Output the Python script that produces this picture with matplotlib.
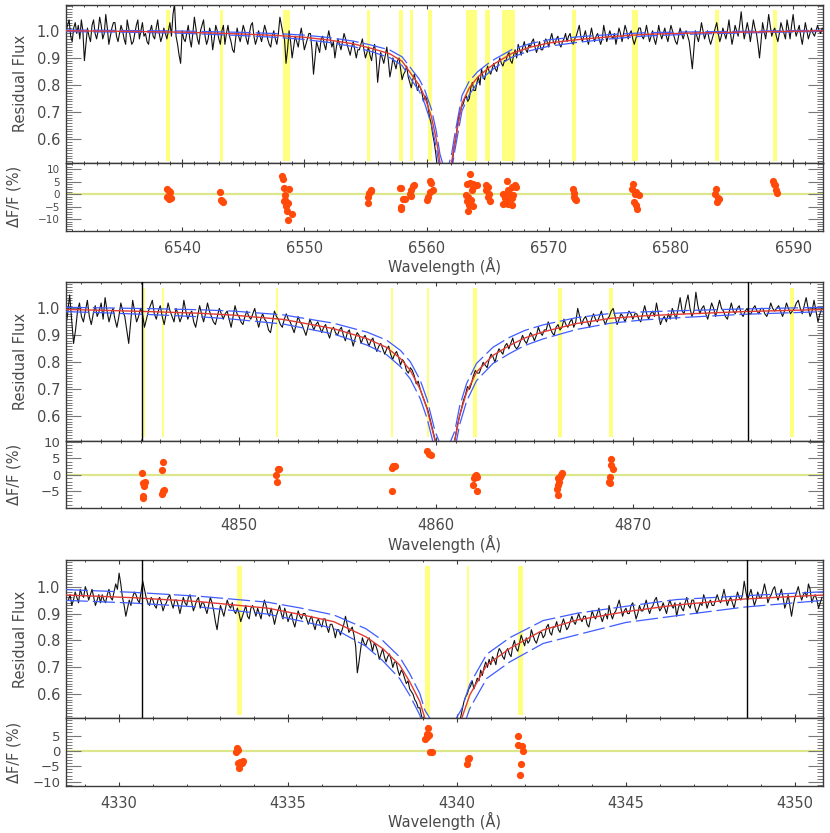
import numpy as np
import matplotlib
matplotlib.use('Agg')
import matplotlib.pyplot as plt
from matplotlib.ticker import MultipleLocator, FixedLocator

plt.rcParams['font.family'] = ['DejaVu Sans']
plt.rcParams['lines.scale_dashes'] = False

# ---------------- Panel 1 (H-alpha) ----------------
flux1_start, flux1_step = 6530.5, 0.125
flux1 = [
    1.00, 1.02, 1.04, 0.98, 0.96, 1.01, 1.03, 0.99,  1.02, 0.97, 1.04, 1.00, 0.89, 0.95, 1.01, 0.98,
    0.96, 1.02, 1.04, 0.99, 0.97, 1.00, 1.05, 1.02,  0.97, 0.99, 1.06, 1.01, 0.95, 0.98, 1.01, 1.03,
    1.03, 0.98, 0.96, 0.99, 1.02, 1.00, 0.97, 0.95,  1.04, 1.01, 0.98, 0.95, 0.96, 0.99, 1.02, 1.04,
    0.97, 1.00, 1.03, 0.98, 0.99, 0.96, 0.95, 1.00,  1.02, 0.98, 0.97, 1.01, 1.04, 0.99, 0.96, 0.98,
    1.01, 0.99, 0.97, 1.00, 1.03, 0.98, 1.06, 1.10,  0.98, 0.95, 0.91, 0.88, 1.00, 0.97, 0.96, 0.99,
    1.02, 0.97, 0.94, 0.99, 1.05, 1.01, 0.97, 0.95,  1.00, 1.02, 1.04, 0.98, 0.95, 0.97, 1.01, 0.99,
    0.93, 0.97, 1.02, 1.00, 0.97, 0.95, 1.00, 1.02,  0.95, 0.99, 1.02, 0.98, 0.96, 0.93, 0.92, 0.97,
    1.01, 0.98, 0.96, 0.99, 1.02, 1.00, 0.97, 0.95,  0.99, 1.02, 1.03, 0.98, 0.95, 0.97, 1.00, 0.98,
    0.96, 0.99, 1.02, 1.00, 0.97, 0.95, 0.94, 0.98,  1.00, 0.97, 0.95, 0.99, 1.05, 1.02, 0.99, 0.97,
    0.88, 0.93, 1.00, 0.96, 0.90, 0.94, 0.98, 0.96,  0.94, 0.98, 1.01, 0.97, 0.93, 0.95, 0.97, 0.99,
    0.99, 0.93, 0.84, 0.90, 0.96, 0.94, 0.92, 0.97,  0.98, 0.95, 0.93, 0.97, 1.00, 0.97, 0.94, 0.96,
    0.90, 0.94, 0.97, 0.95, 0.93, 0.96, 0.99, 0.97,  0.95, 0.93, 0.91, 0.94, 0.96, 0.93, 0.90, 0.93,
    0.93, 0.95, 0.97, 0.93, 0.90, 0.92, 0.94, 0.91,  0.89, 0.93, 0.95, 0.90, 0.81, 0.87, 0.92, 0.90,
    0.88, 0.91, 0.94, 0.89, 0.83, 0.86, 0.90, 0.88,  0.86, 0.89, 0.90, 0.86, 0.82, 0.84, 0.85, 0.87,
    0.83, 0.81, 0.79, 0.82, 0.84, 0.81, 0.78, 0.80,  0.79, 0.77, 0.74, 0.76, 0.75, 0.72, 0.68, 0.66,
    0.62, 0.59, 0.55, 0.50, 0.45, 0.42, 0.40, 0.38,  0.38, 0.37, 0.40, 0.44, 0.48, 0.52, 0.57, 0.60,
    0.64, 0.68, 0.70, 0.72, 0.73, 0.75, 0.76, 0.74,  0.75, 0.79, 0.81, 0.78, 0.78, 0.81, 0.83, 0.80,
    0.86, 0.83, 0.82, 0.85, 0.87, 0.85, 0.84, 0.86,  0.88, 0.86, 0.85, 0.88, 0.90, 0.88, 0.87, 0.89,
    0.89, 0.91, 0.92, 0.89, 0.88, 0.91, 0.93, 0.90,  0.95, 0.93, 0.91, 0.94, 0.96, 0.93, 0.92, 0.95,
    0.94, 0.96, 0.97, 0.94, 0.92, 0.94, 0.96, 0.93,  0.93, 0.95, 0.97, 0.96, 0.94, 0.97, 0.99, 0.96,
    0.95, 0.97, 0.98, 0.95, 0.94, 0.96, 0.97, 0.99,  0.96, 0.98, 0.99, 0.96, 0.95, 0.97, 0.98, 1.00,
    1.02, 0.98, 0.96, 0.98, 1.00, 0.97, 0.95, 0.98,  1.01, 0.98, 0.96, 0.98, 0.99, 0.97, 0.95, 0.97,
    1.02, 0.99, 0.96, 0.98, 1.00, 0.98, 0.97, 0.99,  0.95, 0.98, 1.01, 0.99, 0.96, 0.99, 1.02, 1.00,
    0.97, 0.99, 1.00, 0.97, 0.95, 0.97, 0.99, 1.01,  1.01, 0.98, 0.97, 0.99, 1.02, 0.99, 0.96, 0.98,
    1.00, 0.97, 0.95, 0.98, 1.02, 0.99, 0.97, 0.99,  1.01, 0.98, 0.96, 0.99, 1.02, 1.00, 0.98, 0.96,
    0.95, 0.98, 1.01, 0.99, 0.97, 0.99, 1.00, 0.98,  0.96, 0.91, 0.86, 0.93, 1.00, 0.98, 0.96, 0.99,
    1.03, 1.00, 0.97, 0.99, 1.00, 0.97, 0.95, 0.97,  0.99, 1.01, 1.03, 0.99, 0.96, 0.98, 1.01, 0.99,
    0.97, 1.00, 1.04, 0.99, 0.95, 0.98, 1.02, 1.00,  0.98, 1.02, 1.07, 1.01, 0.97, 1.00, 1.03, 1.00,
    0.96, 1.00, 1.04, 1.01, 0.99, 0.95, 0.90, 0.96,  1.03, 1.00, 0.97, 1.01, 1.06, 1.02, 0.98, 1.00,
    1.01, 0.98, 0.96, 0.99, 1.03, 1.01, 0.99, 0.97,  1.04, 1.01, 0.97, 1.02, 1.06, 1.01, 0.98, 1.00,
    1.02, 0.98, 0.95, 0.99, 1.03, 1.00, 0.97, 0.99,  1.01, 0.99, 0.98, 1.00, 1.02, 1.00, 0.99, 1.01,
    1.00,
]
model1_wl = [6530.5, 6535, 6540, 6545, 6548, 6550, 6552, 6554, 6555.5, 6557, 6558, 6558.8, 6559.4, 6559.85,
             6560.4, 6560.8, 6561.1, 6561.6, 6562.05, 6562.3, 6562.9, 6563.5, 6564.2, 6565, 6565.6, 6567,
             6568.5, 6570, 6572.5, 6575, 6578, 6582, 6586, 6592.5]
model1 = [1.0, 0.998, 0.995, 0.988, 0.982, 0.976, 0.966, 0.952, 0.935, 0.915, 0.888, 0.837, 0.80, 0.757,
          0.683, 0.60, 0.515, 0.44, 0.515, 0.585, 0.733, 0.79, 0.83, 0.86, 0.88, 0.917,
          0.94, 0.955, 0.968, 0.978, 0.987, 0.992, 0.995, 1.0]
up1 = [0.003, 0.003, 0.004, 0.006, 0.007, 0.008, 0.009, 0.01, 0.012, 0.014, 0.016, 0.02, 0.022, 0.025,
       0.028, 0.03, 0.03, 0.03, 0.03, 0.03, 0.028, 0.025, 0.02, 0.018, 0.016, 0.014,
       0.013, 0.012, 0.01, 0.008, 0.006, 0.004, 0.003, 0.002]
dn1 = up1
band1_lo = [6538.69, 6543.07, 6548.25, 6555.15, 6557.78, 6558.68, 6560.08, 6563.2, 6564.78, 6566.21,
            6571.93, 6576.84, 6583.63, 6588.37]
band1_hi = [6539.02, 6543.37, 6548.84, 6555.39, 6558.08, 6558.90, 6560.47, 6564.1, 6565.17, 6567.2,
            6572.24, 6577.33, 6583.96, 6588.67]
vline1 = []
res1_wl = [6538.76, 6538.90, 6538.76, 6538.90, 6539.09, 6539.04,
           6543.09, 6543.20, 6543.37, 6543.26,
           6548.21, 6548.27, 6548.35, 6548.71, 6548.41, 6548.35, 6548.63, 6548.49, 6548.57, 6548.95, 6548.63, 6548.43,
           6555.42, 6555.28, 6555.20, 6555.20, 6555.47,
           6557.80, 6557.94, 6558.07, 6557.94, 6557.88, 6558.21,
           6558.76, 6558.90, 6558.98, 6558.70, 6558.62,
           6560.27, 6560.40, 6560.54, 6560.13, 6560.07, 6560.27,
           6563.55, 6563.28, 6563.55, 6563.83, 6564.10, 6563.20, 6563.69, 6563.42, 6563.64, 6563.28, 6563.47, 6563.77, 6563.42, 6563.77,
           6564.84, 6565.00, 6565.11, 6565.00, 6565.20, 6564.84,
           6566.57, 6567.25, 6566.98, 6566.70, 6566.29, 6566.84, 6566.43, 6566.98, 6566.29, 6566.70, 6566.98, 6567.11, 6566.57, 6567.31,
           6571.96, 6572.10, 6572.18, 6572.26, 6572.04,
           6576.89, 6576.84, 6577.11, 6577.38, 6576.97, 6577.17, 6577.25, 6577.06,
           6583.68, 6583.63, 6583.82, 6583.96, 6583.74,
           6588.34, 6588.48, 6588.56, 6588.70, 6588.42]
res1_val = [2.0, 1.3, -1.1, -2.0, -1.5, 0.9,
            0.9, -2.4, -3.3, -2.9,
            7.5, 6.0, 2.7, 2.0, -0.4, -2.9, -3.6, -4.8, -6.8, -7.8, -10.4, -2.4,
            1.6, 0.5, -1.1, -3.5, 1.5,
            2.7, 2.5, -2.0, -5.1, -6.0, -2.0,
            1.6, 3.3, 3.6, -0.7, -0.1,
            5.2, 4.6, 1.6, -1.1, -2.4, 0.9,
            8.3, 4.3, 4.6, 4.3, 3.9, -0.4, 1.6, -1.1, -2.4, -2.8, -4.4, -4.7, -6.8, 2.9,
            3.9, 2.9, 0.3, -1.1, -2.8, 1.6,
            5.2, 3.6, 2.9, 1.6, 0.3, 0.3, -1.7, -1.7, -4.0, -4.0, -4.4, -0.4, -3.1, 2.9,
            2.3, 0.5, -2.1, -2.4, -1.1,
            4.0, 2.3, 0.9, -0.4, -3.1, -4.4, -5.8, 0.3,
            2.3, 0.3, -1.5, -2.0, -3.1,
            5.2, 3.6, 1.9, 0.5, 4.3]
xticks1 = [6540, 6550, 6560, 6570, 6580, 6590]
rticks1 = [-10, -5, 0, 5, 10]

# ---------------- Panel 2 (H-beta) ----------------
flux2_start, flux2_step = 4841.2, 0.1
flux2 = [
    0.93, 0.98, 1.05, 0.96, 0.87, 0.92, 0.99, 1.02, 0.97, 0.95,
    0.99, 1.03, 0.97, 0.94, 0.98, 1.01, 0.97, 0.99, 1.02, 0.96,
    1.04, 0.99, 0.95, 0.98, 1.00, 0.96, 0.93, 0.97, 1.02, 0.99,
    0.97, 0.92, 0.87, 0.95, 1.03, 0.99, 0.95, 0.97, 1.00, 0.98,
    0.93, 0.96, 0.99, 1.01, 1.03, 0.98, 0.96, 0.99, 1.01, 0.97,
    0.94, 0.98, 1.02, 0.99, 0.97, 0.95, 1.00, 0.98, 0.95, 0.97,
    1.03, 0.99, 0.96, 0.98, 0.99, 0.95, 0.93, 0.97, 1.01, 0.98,
    0.95, 0.98, 1.02, 0.99, 0.97, 0.95, 0.94, 0.97, 1.00, 0.98,
    0.96, 0.98, 0.99, 0.96, 0.93, 0.97, 1.01, 0.98, 0.97, 0.95,
    0.94, 0.97, 0.99, 0.97, 0.96, 0.98, 1.00, 0.96, 0.93, 0.96,
    0.98, 0.96, 0.95, 0.92, 0.91, 0.95, 0.99, 0.97, 0.96, 0.94,
    0.93, 0.96, 0.98, 0.96, 0.95, 0.93, 0.91, 0.94, 0.97, 0.95,
    0.94, 0.92, 0.90, 0.93, 0.96, 0.94, 0.92, 0.94, 0.95, 0.93,
    0.91, 0.93, 0.94, 0.91, 0.89, 0.92, 0.93, 0.91, 0.90, 0.92,
    0.93, 0.90, 0.88, 0.91, 0.92, 0.89, 0.86, 0.89, 0.91, 0.90,
    0.87, 0.89, 0.90, 0.88, 0.86, 0.88, 0.89, 0.86, 0.84, 0.86,
    0.87, 0.85, 0.83, 0.85, 0.86, 0.83, 0.81, 0.83, 0.84, 0.82,
    0.79, 0.81, 0.80, 0.77, 0.76, 0.78, 0.77, 0.75, 0.72, 0.73,
    0.70, 0.68, 0.66, 0.64, 0.62, 0.59, 0.56, 0.53, 0.50, 0.47,
    0.42, 0.40, 0.38, 0.39, 0.40, 0.42, 0.45, 0.49, 0.53, 0.57,
    0.60, 0.63, 0.66, 0.68, 0.71, 0.70, 0.72, 0.75, 0.77, 0.76,
    0.76, 0.78, 0.80, 0.79, 0.78, 0.81, 0.83, 0.82, 0.80, 0.83,
    0.85, 0.84, 0.83, 0.86, 0.87, 0.85, 0.87, 0.89, 0.86, 0.85,
    0.86, 0.88, 0.90, 0.88, 0.87, 0.89, 0.91, 0.90, 0.88, 0.90,
    0.93, 0.91, 0.90, 0.92, 0.92, 0.95, 0.93, 0.91, 0.90, 0.93,
    0.94, 0.92, 0.93, 0.96, 0.94, 0.93, 0.95, 0.96, 0.93, 0.95,
    1.00, 0.97, 0.94, 0.96, 0.97, 0.95, 0.93, 0.96, 0.98, 0.96,
    0.95, 0.97, 0.99, 0.96, 0.94, 0.96, 0.97, 0.99, 1.00, 0.97,
    0.94, 0.96, 0.98, 0.97, 0.95, 0.97, 0.99, 0.98, 0.96, 0.98,
    0.98, 0.96, 0.95, 0.98, 1.01, 0.98, 0.96, 0.98, 0.99, 0.97,
    1.02, 0.98, 0.94, 0.96, 0.97, 0.95, 0.98, 0.96, 1.00, 0.98,
    0.96, 1.00, 1.04, 0.99, 0.98, 1.02, 1.05, 1.00, 0.97, 0.99,
    1.06, 1.01, 0.98, 1.00, 1.01, 0.98, 0.96, 0.99, 1.02, 1.00,
    0.97, 1.00, 1.03, 1.00, 0.99, 0.97, 0.96, 0.99, 1.02, 0.99,
    0.98, 1.00, 1.01, 0.98, 0.97, 0.99, 1.00, 0.98, 0.98, 1.00,
    1.01, 0.99, 0.98, 1.00, 1.00, 0.98, 0.97, 0.99, 1.02, 1.00,
    0.99, 1.00, 1.01, 0.99, 0.97, 0.99, 1.02, 1.00, 0.98, 0.99,
    1.00, 1.02, 1.03, 1.00, 0.98, 1.01, 1.04, 1.00, 0.97, 0.99,
    1.03, 0.99, 0.95, 0.98, 1.00,
]
model2_wl = [4841.2, 4843, 4845.5, 4848, 4849.7, 4852.25, 4854.8, 4856.5, 4857.5, 4858.2, 4858.7, 4859.2,
             4859.55, 4859.95, 4860.45, 4860.96, 4861.2, 4861.56, 4862.06, 4862.9, 4863.75, 4864.5,
             4865.45, 4867.15, 4868.85, 4870.5, 4872.2, 4875.6, 4879.7]
model2 = [0.996, 0.993, 0.988, 0.982, 0.975, 0.959, 0.925, 0.888, 0.855, 0.814, 0.77, 0.70,
          0.627, 0.51, 0.42, 0.51, 0.602, 0.689, 0.764, 0.826, 0.863, 0.89,
          0.913, 0.944, 0.963, 0.972, 0.978, 0.988, 0.996]
up2 = [0.008, 0.009, 0.011, 0.013, 0.015, 0.017, 0.02, 0.024, 0.027, 0.03, 0.032, 0.034,
       0.035, 0.035, 0.035, 0.035, 0.034, 0.033, 0.032, 0.03, 0.03, 0.028,
       0.026, 0.022, 0.018, 0.015, 0.013, 0.01, 0.008]
dn2 = up2
band2_lo = [4845.06, 4846.09, 4851.88, 4857.73, 4859.53, 4861.89, 4866.19, 4868.79, 4877.98]
band2_hi = [4845.23, 4846.17, 4851.96, 4857.83, 4859.64, 4862.09, 4866.39, 4868.99, 4878.18]
vline2 = [4845.06, 4875.84]
res2_wl = [4845.09, 4845.14, 4845.23, 4845.18, 4845.11, 4845.14,
           4846.12, 4846.11, 4846.19, 4846.07, 4846.16,
           4851.96, 4852.04, 4851.88, 4851.91,
           4857.83, 4857.92, 4857.78, 4857.76,
           4859.56, 4859.66, 4859.73,
           4861.98, 4862.06, 4861.93, 4861.89, 4862.11, 4862.03,
           4866.38, 4866.29, 4866.21, 4866.26, 4866.21, 4866.17, 4866.22, 4866.33,
           4868.91, 4868.88, 4868.97, 4868.83, 4868.80, 4868.86]
res2_val = [0.7, -2.5, -2.2, -3.3, -6.4, -6.9,
            3.8, 1.5, -4.5, -5.8, -4.8,
            1.7, 1.8, 0.0, -2.0,
            2.7, 2.6, 2.2, -4.8,
            7.3, 6.4, 6.1,
            -0.3, -0.5, -0.8, -3.2, -4.8, 0.0,
            0.5, -0.5, -1.0, -2.0, -3.0, -4.2, -6.1, 0.0,
            4.8, 3.0, 1.7, -0.5, -2.0, -2.5]
xticks2 = [4850, 4860, 4870]
rticks2 = [-5, 0, 5, 10]

# ---------------- Panel 3 (H-gamma) ----------------
flux3_start, flux3_step = 4328.5, 0.05
flux3 = [
    0.95, 0.97, 0.93, 0.95, 0.98, 0.96, 0.94, 0.99, 0.97, 0.96, 1.00, 0.98, 0.95, 0.97, 0.99, 0.96, 0.93, 0.95, 0.97, 0.94,
    0.97, 0.95, 0.94, 0.97, 0.99, 0.96, 0.95, 0.98, 1.01, 0.99, 1.05, 1.01, 0.96, 0.93, 0.89, 0.92, 0.95, 0.93, 0.96, 0.98,
    0.97, 0.95, 0.94, 0.98, 1.02, 0.99, 0.96, 0.94, 0.93, 0.96, 0.95, 0.93, 0.92, 0.95, 0.96, 0.94, 0.91, 0.93, 0.94, 0.96,
    0.97, 0.94, 0.92, 0.95, 0.95, 0.93, 0.90, 0.93, 0.96, 0.94, 0.93, 0.96, 0.97, 0.94, 0.91, 0.93, 0.95, 0.96, 0.92, 0.94,
    0.94, 0.92, 0.90, 0.93, 0.96, 0.94, 0.91, 0.87, 0.84, 0.89, 0.93, 0.91, 0.89, 0.92, 0.95, 0.93, 0.92, 0.94, 0.91, 0.90,
    0.92, 0.90, 0.87, 0.89, 0.91, 0.93, 0.89, 0.88, 0.92, 0.93, 0.91, 0.89, 0.92, 0.90, 0.88, 0.92, 0.95, 0.93, 0.90, 0.89,
    0.92, 0.89, 0.86, 0.89, 0.91, 0.93, 0.90, 0.88, 0.92, 0.90, 0.87, 0.89, 0.90, 0.87, 0.85, 0.88, 0.91, 0.89, 0.88, 0.90,
    0.90, 0.88, 0.86, 0.88, 0.89, 0.86, 0.84, 0.87, 0.88, 0.86, 0.85, 0.88, 0.88, 0.85, 0.83, 0.86, 0.86, 0.84, 0.81, 0.84,
    0.84, 0.82, 0.84, 0.86, 0.89, 0.86, 0.83, 0.84, 0.85, 0.82, 0.78, 0.68, 0.72, 0.77, 0.81, 0.79, 0.78, 0.80, 0.81, 0.79,
    0.76, 0.79, 0.78, 0.76, 0.73, 0.75, 0.77, 0.74, 0.72, 0.74, 0.75, 0.73, 0.70, 0.72, 0.72, 0.69, 0.67, 0.69, 0.68, 0.66,
    0.64, 0.65, 0.62, 0.61, 0.60, 0.58, 0.57, 0.55, 0.55, 0.52, 0.50, 0.48, 0.46, 0.44, 0.42, 0.41, 0.40, 0.40, 0.39, 0.38,
    0.38, 0.37, 0.37, 0.38, 0.39, 0.40, 0.41, 0.43, 0.44, 0.46, 0.47, 0.49, 0.51, 0.54, 0.57, 0.59, 0.60, 0.62, 0.63, 0.65,
    0.62, 0.64, 0.66, 0.65, 0.69, 0.67, 0.70, 0.72, 0.70, 0.73, 0.71, 0.74, 0.73, 0.71, 0.75, 0.77, 0.76, 0.74, 0.73, 0.76,
    0.77, 0.75, 0.74, 0.78, 0.80, 0.77, 0.76, 0.79, 0.82, 0.80, 0.78, 0.81, 0.79, 0.80, 0.84, 0.82, 0.80, 0.79, 0.81, 0.83,
    0.83, 0.81, 0.82, 0.85, 0.86, 0.83, 0.82, 0.85, 0.85, 0.87, 0.84, 0.83, 0.86, 0.88, 0.86, 0.84, 0.85, 0.87, 0.89, 0.87,
    0.86, 0.88, 0.90, 0.88, 0.87, 0.89, 0.89, 0.86, 0.85, 0.88, 0.91, 0.89, 0.88, 0.90, 0.92, 0.89, 0.87, 0.89, 0.90, 0.88,
    0.93, 0.90, 0.88, 0.90, 0.91, 0.93, 0.95, 0.92, 0.89, 0.91, 0.92, 0.90, 0.90, 0.93, 0.94, 0.91, 0.88, 0.90, 0.93, 0.91,
    0.91, 0.93, 0.95, 0.92, 0.90, 0.92, 0.93, 0.95, 0.96, 0.93, 0.91, 0.92, 0.94, 0.92, 0.90, 0.93, 0.95, 0.93, 0.92, 0.94,
    0.89, 0.92, 0.94, 0.92, 0.91, 0.94, 0.96, 0.93, 0.92, 0.95, 0.95, 0.92, 0.90, 0.92, 0.94, 0.93, 0.97, 0.95, 0.92, 0.94,
    0.95, 0.93, 0.93, 0.95, 0.97, 0.95, 0.94, 0.96, 0.99, 0.96, 0.93, 0.95, 0.96, 0.94, 0.92, 0.95, 0.98, 0.96, 0.95, 0.97,
    1.02, 0.98, 0.95, 0.97, 0.99, 0.96, 0.93, 0.95, 0.98, 0.96, 0.96, 0.98, 1.01, 0.98, 0.94, 0.96, 0.97, 0.99, 1.00, 0.97,
    0.95, 0.97, 0.99, 0.96, 0.92, 0.94, 0.97, 0.93, 0.89, 0.93, 0.96, 0.98, 1.00, 0.97, 0.95, 0.97, 0.98, 0.96, 1.01, 0.99,
    0.94, 0.96, 0.97, 0.95, 0.92, 0.94, 0.96,
]
model3_wl = [4328.42, 4330.4, 4332.4, 4334.4, 4335.35, 4336.35, 4337.3, 4337.8, 4338.3, 4338.6, 4338.9,
             4339.05, 4339.6, 4340.14, 4340.38, 4340.88, 4341.57, 4342.55, 4343.55, 4345.0, 4346.5,
             4348.5, 4350.84]
model3 = [0.969, 0.959, 0.944, 0.92, 0.897, 0.87, 0.814, 0.77, 0.709, 0.647, 0.573,
          0.511, 0.40, 0.511, 0.598, 0.709, 0.771, 0.839, 0.876, 0.907, 0.932,
          0.954, 0.969]
up3 = [0.02, 0.02, 0.02, 0.022, 0.024, 0.025, 0.03, 0.03, 0.03, 0.03, 0.03,
       0.03, 0.03, 0.035, 0.04, 0.04, 0.04, 0.035, 0.025, 0.02, 0.02, 0.012, 0.012]
dn3 = [0.02, 0.02, 0.02, 0.022, 0.024, 0.025, 0.035, 0.045, 0.05, 0.05, 0.05,
       0.05, 0.05, 0.05, 0.05, 0.05, 0.05, 0.05, 0.055, 0.04, 0.04, 0.03, 0.02]
band3_lo = [4333.48, 4339.05, 4340.30, 4341.80]
band3_hi = [4333.63, 4339.20, 4340.36, 4341.96]
vline3 = [4330.67, 4348.58]
res3_wl = [4333.50, 4333.53, 4333.46, 4333.58, 4333.66, 4333.53, 4333.56, 4333.63,
           4339.15, 4339.17, 4339.10, 4339.05, 4339.20, 4339.25, 4339.12,
           4340.36, 4340.30, 4340.33,
           4341.81, 4341.81, 4341.91, 4341.94, 4341.89, 4341.86]
res3_val = [0.9, 0.3, -0.4, -3.5, -3.3, -4.0, -5.7, -4.0,
            7.4, 5.2, 4.5, 3.8, -0.2, -0.4, 5.4,
            -2.4, -4.2, -2.6,
            4.8, 2.0, 1.7, 0.0, -4.2, -7.8]
xticks3 = [4330, 4335, 4340, 4345, 4350]
rticks3 = [-10, -5, 0, 5]

yticks_main = [0.6, 0.7, 0.8, 0.9, 1.0]

# ---------------- layout / style ----------------
W, H = 830.0, 833.0
X0, X1 = 65.7, 823.3
panels = [
    dict(flux=flux1, start=flux1_start, step=flux1_step, mwl=model1_wl, model=model1, up=up1, dn=dn1,
         blo=band1_lo, bhi=band1_hi, vl=vline1, rwl=res1_wl, rv=res1_val, xt=xticks1, xminor=1.0,
         rt=rticks1, rfs=7.5, xlim=(6530.47, 6592.47), ylim=(0.513, 1.096), rlim=(-14.7, 12.6),
         top=4.7, mid=163.0, bot=230.7),
    dict(flux=flux2, start=flux2_start, step=flux2_step, mwl=model2_wl, model=model2, up=up2, dn=dn2,
         blo=band2_lo, bhi=band2_hi, vl=vline2, rwl=res2_wl, rv=res2_val, xt=xticks2, xminor=1.0,
         rt=rticks2, rfs=9.5, xlim=(4841.2, 4879.67), ylim=(0.51, 1.099), rlim=(-10.1, 10.4),
         top=281.7, mid=440.5, bot=508.3),
    dict(flux=flux3, start=flux3_start, step=flux3_step, mwl=model3_wl, model=model3, up=up3, dn=dn3,
         blo=band3_lo, bhi=band3_hi, vl=vline3, rwl=res3_wl, rv=res3_val, xt=xticks3, xminor=1.0,
         rt=rticks3, rfs=9.5, xlim=(4328.42, 4350.84), ylim=(0.511, 1.10), rlim=(-11.3, 10.6),
         top=559.7, mid=718.3, bot=785.7),
]

AX_COL = '#3a3a3a'
TXT_COL = '#4a4a4a'
BAND_COL = '#ffff80'
RED = '#e23a35'
BLUE = '#3f5cff'
DOT = '#ff4a0a'
ZERO = '#dde68a'
BAND_Y = (0.522, 1.075)
FS = 10.5

fig = plt.figure(figsize=(W / 100, H / 100), dpi=100)


def style_axes(ax):
    for s in ax.spines.values():
        s.set_color(AX_COL)
        s.set_linewidth(1.0)
    ax.tick_params(axis='x', which='major', direction='in', length=2.6, width=0.8,
                   top=True, bottom=True, colors=AX_COL, labelcolor=TXT_COL, labelsize=FS, pad=7.3)
    ax.tick_params(axis='x', which='minor', direction='in', length=1.5, width=0.7,
                   top=True, bottom=True, colors=AX_COL)
    ax.tick_params(axis='y', which='major', direction='in', length=11, width=0.8,
                   left=True, right=True, colors='#777777', labelcolor=TXT_COL, labelsize=FS, pad=4)
    ax.tick_params(axis='y', which='minor', direction='in', length=4.3, width=0.7,
                   left=True, right=True, colors='#777777')


for p in panels:
    axm = fig.add_axes([X0 / W, 1 - p['mid'] / H, (X1 - X0) / W, (p['mid'] - p['top']) / H])
    axr = fig.add_axes([X0 / W, 1 - p['bot'] / H, (X1 - X0) / W, (p['bot'] - p['mid']) / H], sharex=axm)

    flux = np.array(p['flux'])
    wl = p['start'] + p['step'] * np.arange(len(flux))
    mwl = np.array(p['mwl'])
    model = np.array(p['model'])

    for lo, hi in zip(p['blo'], p['bhi']):
        axm.fill_betweenx(BAND_Y, lo, hi, color=BAND_COL, lw=0, zorder=1)
    axm.plot(wl, flux, color='#111111', lw=0.8, zorder=2)
    axm.plot(mwl, model + np.array(p['up']), color=BLUE, lw=0.9, dashes=(16, 3.5), zorder=3)
    axm.plot(mwl, model - np.array(p['dn']), color=BLUE, lw=0.9, dashes=(16, 3.5), zorder=3)
    axm.plot(mwl, model, color=RED, lw=1.0, zorder=4)
    for v in p['vl']:
        axm.axvline(v, color='black', lw=1.0, zorder=5)

    axm.set_xlim(*p['xlim'])
    axm.set_ylim(*p['ylim'])
    axm.yaxis.set_major_locator(FixedLocator(yticks_main))
    axm.yaxis.set_minor_locator(MultipleLocator(0.01))
    axm.set_yticklabels(['%.1f' % t for t in yticks_main])
    axm.xaxis.set_major_locator(FixedLocator(p['xt']))
    axm.xaxis.set_minor_locator(MultipleLocator(p['xminor']))
    style_axes(axm)
    axm.tick_params(axis='x', labelbottom=False)
    axm.set_ylabel('Residual Flux', fontsize=FS, color=TXT_COL)
    axm.yaxis.set_label_coords(-0.050, 0.5)

    axr.axhline(0, color=ZERO, lw=1.6, zorder=1)
    axr.plot(p['rwl'], p['rv'], 'o', color=DOT, ms=5.2, mec='none', zorder=3)
    axr.set_ylim(*p['rlim'])
    axr.yaxis.set_major_locator(FixedLocator(p['rt']))
    axr.yaxis.set_minor_locator(MultipleLocator(1))
    axr.set_yticklabels([str(t).replace('-', '\u2212') for t in p['rt']])
    style_axes(axr)
    axr.tick_params(axis='y', labelsize=p['rfs'])
    axr.set_ylabel('\u0394F/F (%)', fontsize=FS, color=TXT_COL)
    axr.yaxis.set_label_coords(-0.059, 0.5)
    axr.set_xlabel('Wavelength (\u00c5)', fontsize=FS, color=TXT_COL, labelpad=1.0)

fig.savefig('out.png', dpi=100)
